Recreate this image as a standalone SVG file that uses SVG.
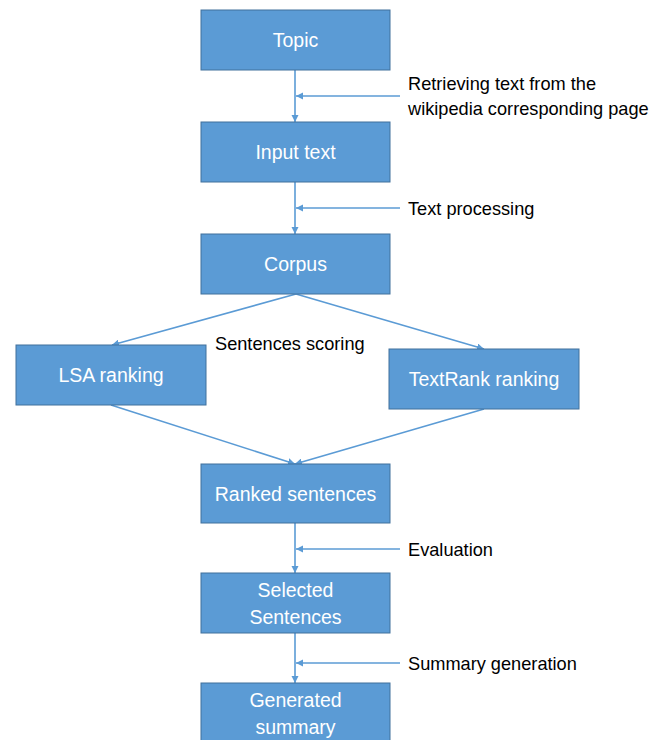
<svg xmlns="http://www.w3.org/2000/svg" width="667" height="740" viewBox="0 0 667 740">
<style>
.box{fill:#5B9BD5;stroke:#41719C;stroke-width:1}
.bt{font-family:"Liberation Sans",Arial,sans-serif;font-size:19.5px;fill:#FFFFFF;text-anchor:middle}
.lb{font-family:"Liberation Sans",Arial,sans-serif;font-size:18.2px;fill:#000000}
.cn{stroke:#5B9BD5;stroke-width:1.6;fill:none;marker-end:url(#ah)}
</style>
<defs>
<marker id="ah" viewBox="0 0 10 10" refX="10" refY="5" markerWidth="4.5" markerHeight="4.5" orient="auto" markerUnits="strokeWidth">
<path d="M0,0 L10,5 L0,10 z" fill="#5B9BD5"/>
</marker>
</defs>
<rect width="667" height="740" fill="#FFFFFF"/>
<g id="connectors">
<line class="cn" x1="295" y1="70" x2="295" y2="122"/>
<line class="cn" x1="400" y1="96" x2="296" y2="96"/>
<line class="cn" x1="295" y1="182" x2="295" y2="234"/>
<line class="cn" x1="400" y1="208" x2="296" y2="208"/>
<line class="cn" x1="296" y1="294" x2="112" y2="345"/>
<line class="cn" x1="296" y1="294" x2="484" y2="349"/>
<line class="cn" x1="111" y1="405" x2="295" y2="464"/>
<line class="cn" x1="484" y1="409" x2="295" y2="464"/>
<line class="cn" x1="295" y1="523" x2="295" y2="573"/>
<line class="cn" x1="400" y1="549" x2="296" y2="549"/>
<line class="cn" x1="295" y1="633" x2="295" y2="683"/>
<line class="cn" x1="400" y1="663" x2="296" y2="663"/>
</g>
<g id="labels">
<text class="lb" x="408" y="90">Retrieving text from the</text>
<text class="lb" x="408" y="115">wikipedia corresponding page</text>
<text class="lb" x="408" y="215">Text processing</text>
<text class="lb" x="215" y="350">Sentences scoring</text>
<text class="lb" x="408" y="556">Evaluation</text>
<text class="lb" x="408" y="670">Summary generation</text>
</g>
<g id="topic"><rect class="box" x="201" y="10" width="189" height="60"/><text class="bt" x="295.5" y="47">Topic</text></g>
<g id="input-text"><rect class="box" x="201" y="122" width="189" height="60"/><text class="bt" x="295.5" y="159">Input text</text></g>
<g id="corpus"><rect class="box" x="201" y="234" width="189" height="60"/><text class="bt" x="295.5" y="271">Corpus</text></g>
<g id="lsa"><rect class="box" x="16" y="345" width="190" height="60"/><text class="bt" x="111" y="382">LSA ranking</text></g>
<g id="textrank"><rect class="box" x="389" y="349" width="190" height="60"/><text class="bt" x="484" y="386">TextRank ranking</text></g>
<g id="ranked"><rect class="box" x="201" y="464" width="189" height="59"/><text class="bt" x="295.5" y="501">Ranked sentences</text></g>
<g id="selected"><rect class="box" x="201" y="573" width="189" height="60"/><text class="bt" x="295.5" y="597">Selected</text><text class="bt" x="295.5" y="624">Sentences</text></g>
<g id="generated"><rect class="box" x="201" y="683" width="189" height="62"/><text class="bt" x="295.5" y="707">Generated</text><text class="bt" x="295.5" y="734">summary</text></g>
</svg>
